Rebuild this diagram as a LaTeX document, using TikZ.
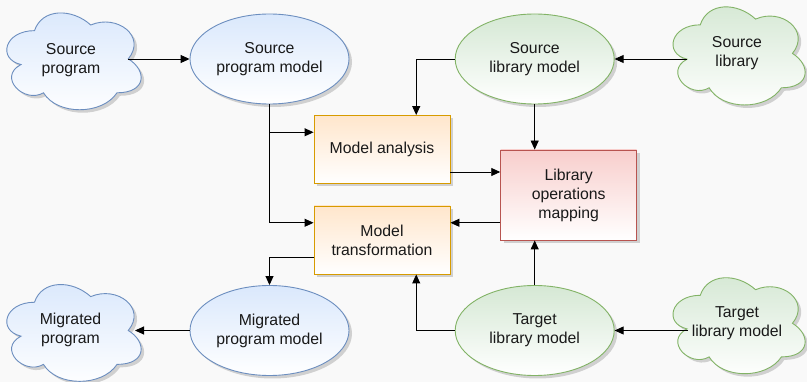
\documentclass[tikz,border=0pt]{standalone}
\usepackage{fontspec}
\setmainfont{Liberation Sans}
\usetikzlibrary{shapes.geometric,arrows.meta,calc,shadows}

\definecolor{bgc}{HTML}{F9F9F9}
\definecolor{blueF}{HTML}{DAE8FC}
\definecolor{blueS}{HTML}{6C8EBF}
\definecolor{greenF}{HTML}{D5E8D4}
\definecolor{greenS}{HTML}{82B366}
\definecolor{orangeF}{HTML}{FFE6CC}
\definecolor{orangeS}{HTML}{D79B00}
\definecolor{redF}{HTML}{F8CECC}
\definecolor{redS}{HTML}{B85450}

% cloud outline in a unit box (y grows downwards)
\newcommand\cloudoutline{(0.25,0.25) .. controls (0.05,0.25) and (0,0.5) .. (0.16,0.55)
  .. controls (0,0.66) and (0.18,0.9) .. (0.31,0.8)
  .. controls (0.4,1) and (0.7,1) .. (0.8,0.8)
  .. controls (1,0.8) and (1,0.6) .. (0.875,0.5)
  .. controls (1,0.3) and (0.8,0.1) .. (0.625,0.2)
  .. controls (0.5,0.05) and (0.3,0.05) .. (0.25,0.25) -- cycle}
% #1 colour style, #2 left, #3 top, #4 width, #5 height
\newcommand\drawcloud[5]{%
  \begin{scope}[shift={(#2+3,#3+3)},xscale=#4,yscale=#5]
    \fill[black,opacity=0.16] \cloudoutline;
  \end{scope}
  \begin{scope}[shift={(#2,#3)},xscale=#4,yscale=#5]
    \path[#1,line width=0.9pt] \cloudoutline;
  \end{scope}}

\begin{document}
\begin{tikzpicture}[x=1pt,y=-1pt,
  txt/.style={font=\fontsize{15.8}{19}\selectfont,text=black!90,align=center},
  shadowed/.style={drop shadow={shadow xshift=3pt,shadow yshift=-3pt,fill=black,opacity=0.16}},
  bluefill/.style={draw=blueS,top color=blueF,bottom color=white},
  greenfill/.style={draw=greenS,top color=greenF,bottom color=white},
  orangefill/.style={draw=orangeS,top color=orangeF,bottom color=white},
  redfill/.style={draw=redS,top color=redF,bottom color=white},
  oval/.style={ellipse,line width=0.9pt,txt,inner sep=0pt,minimum width=159pt,minimum height=90pt,shadowed},
  box/.style={rectangle,line width=0.9pt,txt,inner sep=0pt,minimum width=136pt,minimum height=68pt,shadowed},
  arr/.style={line width=0.9pt,-{Triangle[length=9pt,width=8pt]}}
]
\fill[bgc] (0,0) rectangle (807,382);
\useasboundingbox (0,0) rectangle (807,382);

% clouds
\drawcloud{bluefill}{-3}{2.4}{150}{113}
\drawcloud{greenfill}{663.4}{-3.8}{147.5}{114.5}
\drawcloud{bluefill}{-3}{274}{150}{113}
\drawcloud{greenfill}{663.4}{267.3}{147.5}{112}

\node[txt] (sp) at (71,60) {Source\\program};
\node[txt] (sl) at (737,53) {Source\\library};
\node[txt] (mp) at (70.5,330) {Migrated\\program};
\node[txt] (tl) at (737,323.5) {Target\\library model};

\coordinate (sp-e) at (128,59);
\coordinate (sl-w) at (687,59);
\coordinate (mp-e) at (135,330.5);
\coordinate (tl-w) at (688,330.5);

% models
\node[oval,bluefill] (spm) at (269.5,59) {Source\\program model};
\node[oval,greenfill] (slm) at (534.7,59) {Source\\library model};
\node[oval,bluefill] (mpm) at (269.5,330.5) {Migrated\\program model};
\node[oval,greenfill] (tlm) at (534.7,330.5) {Target\\library model};

% processing steps
\node[box,orangefill] (ma) at (382,149.5) {Model analysis};
\node[box,orangefill] (mt) at (382,240) {Model\\transformation};
\node[box,redfill,minimum height=90pt] (lom) at (568.7,195) {Library\\operations\\mapping};

% connectors
\draw[arr] (sp-e) -- (spm.west);
\draw[arr] (sl-w) -- (slm.east);
\draw[arr] (tl-w) -- (tlm.east);
\draw[arr] (mpm.west) -- (mp-e);

\draw[arr] (spm.south) |- ($(ma.north west)!0.25!(ma.south west)$);
\draw[arr] (spm.south) |- ($(mt.north west)!0.25!(mt.south west)$);
\draw[arr] (slm.west) -| ($(ma.north west)!0.75!(ma.north east)$);
\draw[arr] (slm.south) -- (slm.south |- lom.north);

\coordinate (p1) at ($(ma.east)+(0,22.5)$);
\draw[arr] (p1) -- (p1 -| lom.west);
\coordinate (p2) at ($(mt.north east)!0.25!(mt.south east)$);
\draw[arr] (p2 -| lom.west) -- (p2);

\draw[arr] (tlm.north) -- (tlm.north |- lom.south);
\draw[arr] (tlm.west) -| ($(mt.south west)!0.75!(mt.south east)$);
\draw[arr] ($(mt.north west)!0.75!(mt.south west)$) -| (mpm.north);
\end{tikzpicture}
\end{document}
